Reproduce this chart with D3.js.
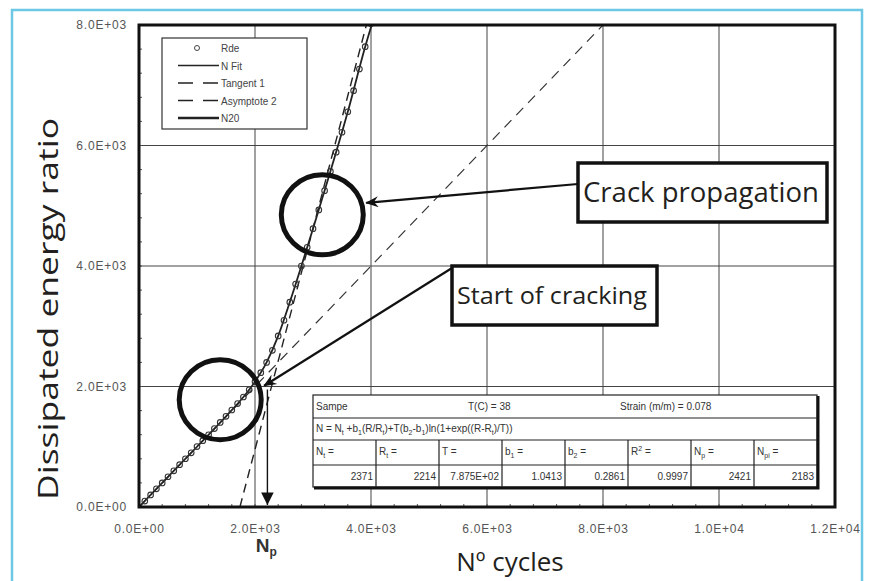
<!DOCTYPE html>
<html>
<head>
<meta charset="utf-8">
<script src="https://cdn.jsdelivr.net/npm/d3@7"></script>
<style>
  body { margin: 0; background: #fff; }
  svg { display: block; }
  .tick-label { font-family: "Liberation Sans", Arial, sans-serif; font-size: 12px; fill: #555; letter-spacing: 0.8px; }
  .legend-text { font-family: "Liberation Sans", Arial, sans-serif; font-size: 10px; fill: #444; }
  .table-text { font-family: "Liberation Sans", Arial, sans-serif; font-size: 10px; fill: #333; }
  .big-label { font-family: "Open Sans", "Noto Sans", sans-serif; fill: #231f20; }
</style>
</head>
<body>
<div id="chart"></div>
<script>
// Rde data points (cycles, dissipated energy ratio)
const rdeCycles = [0, 100, 200, 300, 400, 500, 600, 700, 800, 900, 1000, 1100, 1200, 1300, 1400,
  1500, 1600, 1700, 1800, 1900, 2000, 2100, 2200, 2300, 2400, 2500, 2600, 2700, 2800, 2900,
  3000, 3100, 3200, 3300, 3400, 3500, 3600, 3700, 3800, 3900, 4000];
const rdeRatio = [0, 98, 201, 302, 399, 502, 600, 703, 801, 899, 1003, 1101, 1198, 1302, 1404,
  1505, 1610, 1716, 1826, 1945, 2080, 2230, 2400, 2600, 2840, 3100, 3400, 3700, 4000, 4310,
  4620, 4930, 5250, 5570, 5890, 6220, 6560, 6910, 7270, 7640, 8020];

// N Fit curve
const fitCycles = [0, 500, 1000, 1500, 1800, 2000, 2200, 2400, 2600, 2800, 3000, 3300, 3600, 3900, 4030];
const fitRatio = [0, 500, 1000, 1505, 1825, 2080, 2400, 2840, 3400, 4000, 4620, 5570, 6560, 7640, 8060];

// Tangent 1 and Asymptote 2 end points
const tangentCycles = [1740, 3920];
const tangentRatio = [0, 8000];
const asymptoteCycles = [0, 8000];
const asymptoteRatio = [0, 8000];

// Np marker
const npCycles = 2214;
const npArrowTop = 1950;

// axis ticks
const xTicks = [0, 2000, 4000, 6000, 8000, 10000, 12000];
const yTicks = [0, 2000, 4000, 6000, 8000];

// legend
const legendNames = ["Rde", "N Fit", "Tangent 1", "Asymptote 2", "N20"];

// table contents
const tableHeader = ["Sampe", "T(C) = 38", "Strain (m/m) = 0.078"];
const tableLabels = [["N", "t"], ["R", "t"], ["T", ""], ["b", "1"], ["b", "2"], ["R", "2"], ["N", "p"], ["N", "pi"]];
const tableValues = ["2371", "2214", "7.875E+02", "1.0413", "0.2861", "0.9997", "2421", "2183"];
const formulaParts = [["N = N", ""], ["t", "sub"], [" +b", ""], ["1", "sub"], ["(R/R", ""], ["t", "sub"],
  [")+T(b", ""], ["2", "sub"], ["-b", ""], ["1", "sub"], [")ln(1+exp((R-R", ""], ["t", "sub"], [")/T))", ""]];

// annotations (circles in data units)
const circleCycles = [1400, 3160];
const circleRatio = [1780, 4850];

const width = 874, height = 581;
const margin = { left: 139, top: 25, right: 39, bottom: 74 };

const svg = d3.select("#chart").append("svg")
  .attr("width", width)
  .attr("height", height);

// light blue frame
svg.append("path")
  .attr("d", `M12,${height + 5} L12,10 L862,10 L862,${height + 5}`)
  .attr("fill", "none")
  .attr("stroke", "#6cc8e4")
  .attr("stroke-width", 2.5);

const xScale = d3.scaleLinear().domain([0, 12000]).range([margin.left, width - margin.right]);
const yScale = d3.scaleLinear().domain([0, 8000]).range([height - margin.bottom, margin.top]);

const x0 = xScale(0), x1 = xScale(12000), y0 = yScale(0), y1 = yScale(8000);

svg.append("defs").append("clipPath").attr("id", "plot-clip")
  .append("rect")
  .attr("x", x0).attr("y", y1)
  .attr("width", x1 - x0).attr("height", y0 - y1);

// grid
svg.append("g").selectAll("line")
  .data(xTicks.slice(1, -1))
  .join("line")
  .attr("x1", d => xScale(d)).attr("x2", d => xScale(d))
  .attr("y1", y1).attr("y2", y0)
  .attr("stroke", "#444").attr("stroke-width", 1);

svg.append("g").selectAll("line")
  .data(yTicks.slice(1, -1))
  .join("line")
  .attr("x1", x0).attr("x2", x1)
  .attr("y1", d => yScale(d)).attr("y2", d => yScale(d))
  .attr("stroke", "#444").attr("stroke-width", 1);

// minor ticks inside the frame
const minorX = d3.range(0, 12001, 400);
const minorY = d3.range(0, 8001, 400);
svg.append("g").selectAll("line")
  .data(minorX)
  .join("line")
  .attr("x1", d => xScale(d)).attr("x2", d => xScale(d))
  .attr("y1", y0).attr("y2", y0 - 3)
  .attr("stroke", "#555");
svg.append("g").selectAll("line")
  .data(minorY)
  .join("line")
  .attr("x1", x0).attr("x2", x0 + 3)
  .attr("y1", d => yScale(d)).attr("y2", d => yScale(d))
  .attr("stroke", "#555");

// tick label format like 8.0E+03
const fmt = d => {
  const s = d3.format(".1e")(d).toUpperCase();
  return s.replace(/E([+-])(\d)$/, "E$10$2");
};

const bottomAxis = d3.axisBottom(xScale)
  .tickValues(xTicks)
  .tickSize(0)
  .tickPadding(17)
  .tickFormat(fmt);
const xAxisG = svg.append("g")
  .attr("transform", `translate(0,${y0})`)
  .call(bottomAxis);
xAxisG.select(".domain").remove();
xAxisG.selectAll("text").attr("class", "tick-label");

const leftAxis = d3.axisLeft(yScale)
  .tickValues(yTicks)
  .tickSize(0)
  .tickPadding(12)
  .tickFormat(fmt);
const yAxisG = svg.append("g")
  .attr("transform", `translate(${x0},0)`)
  .call(leftAxis);
yAxisG.select(".domain").remove();
yAxisG.selectAll("text").attr("class", "tick-label");

// plotted lines
const plot = svg.append("g").attr("clip-path", "url(#plot-clip)");
const line = d3.line().x(d => xScale(d[0])).y(d => yScale(d[1]));

plot.append("path")
  .datum(asymptoteCycles.map((c, i) => [c, asymptoteRatio[i]]))
  .attr("d", line)
  .attr("fill", "none").attr("stroke", "#333").attr("stroke-width", 1.2)
  .attr("stroke-dasharray", "10,7");

plot.append("path")
  .datum(tangentCycles.map((c, i) => [c, tangentRatio[i]]))
  .attr("d", line)
  .attr("fill", "none").attr("stroke", "#222").attr("stroke-width", 1.4)
  .attr("stroke-dasharray", "9,6");

plot.append("path")
  .datum(fitCycles.map((c, i) => [c, fitRatio[i]]))
  .attr("d", d3.line().x(d => xScale(d[0])).y(d => yScale(d[1])).curve(d3.curveMonotoneX))
  .attr("fill", "none").attr("stroke", "#222").attr("stroke-width", 1.8);

plot.selectAll("circle.rde")
  .data(rdeCycles.map((c, i) => [c, rdeRatio[i]]))
  .join("circle")
  .attr("class", "rde")
  .attr("cx", d => xScale(d[0]))
  .attr("cy", d => yScale(d[1]))
  .attr("r", 2.8)
  .attr("fill", "none")
  .attr("stroke", "#333")
  .attr("stroke-width", 1.1);

// plot frame
svg.append("rect")
  .attr("x", x0).attr("y", y1)
  .attr("width", x1 - x0).attr("height", y0 - y1)
  .attr("fill", "none").attr("stroke", "#111").attr("stroke-width", 3);

// Np arrow
svg.append("defs").append("marker")
  .attr("id", "arrow-down")
  .attr("viewBox", "0 0 10 10")
  .attr("refX", 10).attr("refY", 5)
  .attr("markerWidth", 9).attr("markerHeight", 9)
  .attr("orient", "auto")
  .append("path").attr("d", "M0,0 L10,5 L0,10 Z").attr("fill", "#111");

svg.append("line")
  .attr("x1", xScale(npCycles)).attr("x2", xScale(npCycles))
  .attr("y1", yScale(npArrowTop)).attr("y2", y0 - 2)
  .attr("stroke", "#111").attr("stroke-width", 1.4)
  .attr("marker-end", "url(#arrow-down)");

const npText = svg.append("text")
  .attr("x", xScale(npCycles) - 1)
  .attr("y", y0 + 45)
  .attr("font-family", "Liberation Sans, Arial, sans-serif")
  .attr("font-weight", "bold")
  .attr("font-size", 19)
  .attr("fill", "#333")
  .attr("text-anchor", "middle");
npText.append("tspan").text("N");
npText.append("tspan").attr("font-size", 12).attr("dy", 4).text("p");

// legend
const legend = svg.append("g").attr("transform", "translate(162,38)");
legend.append("rect")
  .attr("width", 145).attr("height", 91)
  .attr("fill", "#fff").attr("stroke", "#333").attr("stroke-width", 1.2);

legendNames.forEach((name, i) => {
  const g = legend.append("g").attr("transform", `translate(0, ${10 + i * 17.5})`);
  if (name === "Rde") {
    g.append("circle").attr("cx", 35).attr("cy", 0).attr("r", 2.5)
      .attr("fill", "none").attr("stroke", "#444");
  } else {
    g.append("line")
      .attr("x1", 16).attr("x2", 57).attr("y1", 0).attr("y2", 0)
      .attr("stroke", "#222")
      .attr("stroke-width", name === "N20" ? 2.6 : 1.4)
      .attr("stroke-dasharray", (name === "Tangent 1" || name === "Asymptote 2") ? "15,10" : null);
  }
  g.append("text")
    .attr("x", 59).attr("y", 4)
    .attr("class", "legend-text")
    .text(name);
});

// data table
const table = svg.append("g").attr("transform", "translate(313,395)");
const colW = 63;
const rowY = [0, 23, 45, 70, 92];
table.append("rect").attr("width", colW * 8).attr("height", rowY[4])
  .attr("fill", "#fff").attr("stroke", "#222").attr("stroke-width", 1.2);
// heavy right and bottom edges
table.append("path")
  .attr("d", `M1,${rowY[4] + 1} H${colW * 8 + 1} V1`)
  .attr("fill", "none").attr("stroke", "#111").attr("stroke-width", 3);
rowY.slice(1, 4).forEach(y => {
  table.append("line").attr("x1", 0).attr("x2", colW * 8).attr("y1", y).attr("y2", y)
    .attr("stroke", "#222").attr("stroke-width", 1.2);
});
d3.range(1, 8).forEach(i => {
  table.append("line").attr("x1", i * colW).attr("x2", i * colW)
    .attr("y1", rowY[2]).attr("y2", rowY[4])
    .attr("stroke", "#222").attr("stroke-width", 1.2);
});

table.append("text").attr("class", "table-text").attr("x", 3).attr("y", 15).text(tableHeader[0]);
table.append("text").attr("class", "table-text").attr("x", 155).attr("y", 15).text(tableHeader[1]);
table.append("text").attr("class", "table-text").attr("x", 307).attr("y", 15).text(tableHeader[2]);

const formula = table.append("text").attr("class", "table-text").attr("x", 3).attr("y", 37);
let wasSub = false;
formulaParts.forEach(([t, k]) => {
  const isSub = k === "sub";
  const dy = isSub ? (wasSub ? 0 : 3) : (wasSub ? -3 : 0);
  formula.append("tspan")
    .attr("font-size", isSub ? 7 : 10)
    .attr("dy", dy)
    .text(t);
  wasSub = isSub;
});

tableLabels.forEach(([main, sub], i) => {
  const t = table.append("text").attr("class", "table-text")
    .attr("x", i * colW + 3).attr("y", 60);
  t.append("tspan").text(main);
  if (sub === "2" && main === "R") {
    t.append("tspan").attr("font-size", 7).attr("dy", -4).text(sub);
    t.append("tspan").attr("dy", 4).text(" =");
  } else if (sub) {
    t.append("tspan").attr("font-size", 7).attr("dy", 3).text(sub);
    t.append("tspan").attr("dy", -3).text(" =");
  } else {
    t.append("tspan").text(" =");
  }
});

tableValues.forEach((v, i) => {
  table.append("text").attr("class", "table-text")
    .attr("x", (i + 1) * colW - 3).attr("y", 85)
    .attr("text-anchor", "end")
    .text(v);
});

// highlight circles
svg.selectAll("ellipse.note")
  .data(circleCycles.map((c, i) => [c, circleRatio[i]]))
  .join("ellipse")
  .attr("class", "note")
  .attr("cx", d => xScale(d[0]))
  .attr("cy", d => yScale(d[1]))
  .attr("rx", 41).attr("ry", 40)
  .attr("fill", "none")
  .attr("stroke", "#111")
  .attr("stroke-width", 5);

// callout arrows
svg.append("defs").append("marker")
  .attr("id", "arrow-open")
  .attr("viewBox", "0 0 12 10")
  .attr("refX", 11).attr("refY", 5)
  .attr("markerWidth", 14).attr("markerHeight", 11)
  .attr("markerUnits", "userSpaceOnUse")
  .attr("orient", "auto")
  .append("path").attr("d", "M0,0 L12,5 L0,10 L4,5 Z").attr("fill", "#111");

svg.append("line")
  .attr("x1", 578).attr("y1", 184)
  .attr("x2", xScale(circleCycles[1]) + 44).attr("y2", yScale(circleRatio[1]) - 12)
  .attr("stroke", "#111").attr("stroke-width", 2.2)
  .attr("marker-end", "url(#arrow-open)");

svg.append("line")
  .attr("x1", 452).attr("y1", 268)
  .attr("x2", xScale(circleCycles[0]) + 44).attr("y2", yScale(circleRatio[0]) - 14)
  .attr("stroke", "#111").attr("stroke-width", 2.2)
  .attr("marker-end", "url(#arrow-open)");

// callout boxes
const callouts = [
  { text: "Crack propagation", x: 578, y: 163, w: 249, h: 59, size: 27, len: 236 },
  { text: "Start of cracking", x: 452, y: 266, w: 205, h: 59, size: 23, len: 190 }
];
callouts.forEach(c => {
  svg.append("rect")
    .attr("x", c.x).attr("y", c.y).attr("width", c.w).attr("height", c.h)
    .attr("fill", "#fff").attr("stroke", "#111").attr("stroke-width", 3.5);
  svg.append("text")
    .attr("class", "big-label")
    .attr("x", c.x + 5).attr("y", c.y + c.h / 2 + c.size * 0.36)
    .attr("font-size", c.size)
    .attr("textLength", c.len)
    .attr("lengthAdjust", "spacingAndGlyphs")
    .text(c.text);
});

// axis titles
svg.append("text")
  .attr("class", "big-label")
  .attr("text-anchor", "middle")
  .attr("x", 510)
  .attr("y", 571)
  .attr("font-size", 26)
  .text("Nº cycles");

svg.append("text")
  .attr("class", "big-label")
  .attr("text-anchor", "middle")
  .attr("transform", "rotate(-90)")
  .attr("x", -309)
  .attr("y", 58)
  .attr("font-size", 28)
  .attr("textLength", 382)
  .attr("lengthAdjust", "spacingAndGlyphs")
  .text("Dissipated energy ratio");
</script>
</body>
</html>
